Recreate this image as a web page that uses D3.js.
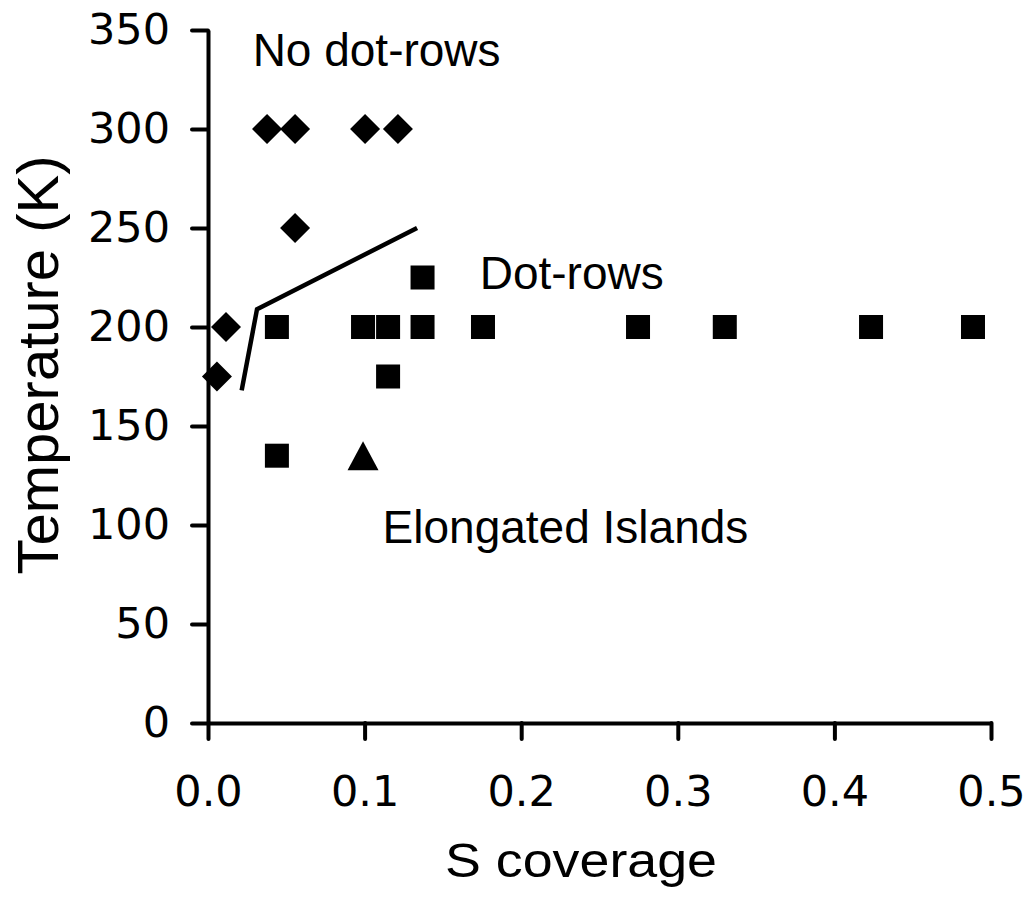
<!DOCTYPE html>
<html>
<head>
<meta charset="utf-8">
<script src="https://cdn.jsdelivr.net/npm/d3@7"></script>
<style>
  body { margin: 0; background: #fff; }
</style>
</head>
<body>
<script>
// S coverage vs temperature, three phases
const noDotRowsX = [0.0377, 0.0556, 0.1003, 0.1213, 0.0556, 0.0115, 0.0057];
const noDotRowsT = [300, 300, 300, 300, 250, 200, 175];

const dotRowsX = [0.044, 0.099, 0.115, 0.137, 0.1756, 0.2746, 0.330, 0.4234, 0.4885, 0.137, 0.115, 0.044];
const dotRowsT = [200, 200, 200, 200, 200, 200, 200, 200, 200, 225, 175, 135];

const islandsX = [0.099];
const islandsT = [135];

// phase boundary drawn by hand in the original
const boundaryX = [0.0215, 0.0313, 0.1335];
const boundaryT = [168, 209, 250];

const xTicks = [0, 0.1, 0.2, 0.3, 0.4, 0.5];
const yTicks = [0, 50, 100, 150, 200, 250, 300, 350];

const width = 1032, height = 900;
const plotLeft = 208, plotRight = 991, plotTop = 30, plotBottom = 723;

const svg = d3.select('body').append('svg')
    .attr('width', width)
    .attr('height', height);

const x = d3.scaleLinear().domain([0, 0.5]).range([plotLeft, plotRight]);
const y = d3.scaleLinear().domain([0, 350]).range([plotBottom, plotTop]);

const xAxis = svg.append('g')
    .attr('transform', `translate(0,${plotBottom})`)
    .call(d3.axisBottom(x).tickValues(xTicks).tickFormat(d3.format('.1f')).tickSize(16).tickSizeOuter(0).tickPadding(36));

const yAxis = svg.append('g')
    .attr('transform', `translate(${plotLeft},0)`)
    .call(d3.axisLeft(y).tickValues(yTicks).tickSize(16).tickSizeOuter(0).tickPadding(22));

[xAxis, yAxis].forEach((g) => {
    g.select('.domain').attr('stroke', '#000').attr('stroke-width', 4);
    g.selectAll('.tick line').attr('stroke', '#000').attr('stroke-width', 4).attr('stroke-linecap', 'round');
    g.selectAll('.tick text')
        .attr('fill', '#000')
        .style('font-family', '"DejaVu Sans", Verdana, sans-serif')
        .style('font-size', '43px');
});

// boundary line
const line = d3.line()
    .x((d, i) => x(boundaryX[i]))
    .y((d, i) => y(boundaryT[i]));

svg.append('path')
    .attr('d', line(boundaryX))
    .attr('fill', 'none')
    .attr('stroke', '#000')
    .attr('stroke-width', 4.5);

// markers
function diamond(cx, cy) {
    const r = 15;
    return `M${cx},${cy - r}L${cx + r},${cy}L${cx},${cy + r}L${cx - r},${cy}Z`;
}
function triangle(cx, cy) {
    const w = 15.5, h = 14.5;
    return `M${cx},${cy - h}L${cx + w},${cy + h}L${cx - w},${cy + h}Z`;
}

svg.append('g').selectAll('path')
    .data(noDotRowsX)
    .enter().append('path')
    .attr('d', (d, i) => diamond(x(d), y(noDotRowsT[i])))
    .attr('fill', '#000');

const sq = 24;
svg.append('g').selectAll('rect')
    .data(dotRowsX)
    .enter().append('rect')
    .attr('x', (d) => x(d) - sq / 2)
    .attr('y', (d, i) => y(dotRowsT[i]) - sq / 2)
    .attr('width', sq)
    .attr('height', sq)
    .attr('fill', '#000');

svg.append('g').selectAll('path')
    .data(islandsX)
    .enter().append('path')
    .attr('d', (d, i) => triangle(x(d), y(islandsT[i])))
    .attr('fill', '#000');

// region labels
const labelFont = '"Liberation Sans", Arial, sans-serif';
const labels = [
    { text: 'No dot-rows', x: 0.0285, t: 332 },
    { text: 'Dot-rows', x: 0.1735, t: 219 },
    { text: 'Elongated Islands', x: 0.1115, t: 91 }
];
svg.append('g').selectAll('text')
    .data(labels)
    .enter().append('text')
    .attr('x', (d) => x(d.x))
    .attr('y', (d) => y(d.t))
    .style('font-family', labelFont)
    .style('font-size', '46px')
    .attr('fill', '#000')
    .text((d) => d.text);

// axis titles
svg.append('text')
    .attr('x', 581)
    .attr('y', 877)
    .attr('text-anchor', 'middle')
    .attr('textLength', 272)
    .attr('lengthAdjust', 'spacingAndGlyphs')
    .style('font-family', labelFont)
    .style('font-size', '49px')
    .text('S coverage');

svg.append('text')
    .attr('transform', 'translate(58,365) rotate(-90)')
    .attr('text-anchor', 'middle')
    .style('font-family', labelFont)
    .style('font-size', '58px')
    .text('Temperature (K)');
</script>
</body>
</html>
